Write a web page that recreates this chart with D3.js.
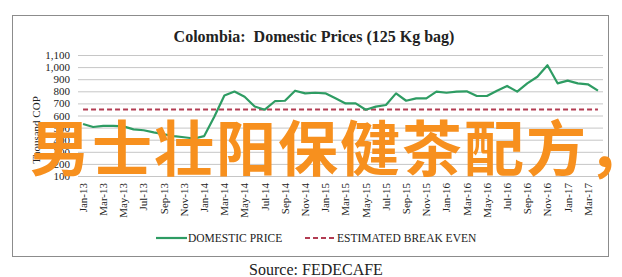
<!DOCTYPE html>
<html>
<head>
<meta charset="utf-8">
<script src="https://cdn.jsdelivr.net/npm/d3@7"></script>
<style>
  body { margin: 0; background: #fff; }
  text { font-family: "Liberation Serif", "Times New Roman", serif; fill: #222; }
</style>
</head>
<body>
<div id="chartArea"></div>
<script>
// categories: one per month, Jan-13 .. Apr-17
var months = [
    "Jan-13","Feb-13","Mar-13","Apr-13","May-13","Jun-13","Jul-13","Aug-13","Sep-13","Oct-13","Nov-13","Dec-13",
    "Jan-14","Feb-14","Mar-14","Apr-14","May-14","Jun-14","Jul-14","Aug-14","Sep-14","Oct-14","Nov-14","Dec-14",
    "Jan-15","Feb-15","Mar-15","Apr-15","May-15","Jun-15","Jul-15","Aug-15","Sep-15","Oct-15","Nov-15","Dec-15",
    "Jan-16","Feb-16","Mar-16","Apr-16","May-16","Jun-16","Jul-16","Aug-16","Sep-16","Oct-16","Nov-16","Dec-16",
    "Jan-17","Feb-17","Mar-17","Apr-17"
];

// domestic price, thousand COP per 125 kg bag
var domesticPrice = [
    530, 505, 515, 515, 510, 485, 478, 460, 445, 430, 420, 410,
    430, 590, 765, 798, 755, 675, 648, 718, 722, 805, 783, 788,
    783, 742, 700, 700, 648, 673, 687, 783, 722, 742, 742, 797,
    788, 797, 800, 761, 761, 805, 844, 797, 866, 920, 1015, 866,
    888, 866, 858, 805
];

var breakEven = 650;

// x tick labels - every second month
var tickLabels = months.filter(function (m, i) { return i % 2 == 0; });
var yTicks = [100, 200, 300, 400, 500, 600, 700, 800, 900, 1000, 1100];

var width = 622, height = 277;

var svg = d3.select("#chartArea")
    .append("svg")
    .attr("width", width)
    .attr("height", height);

// outer frame
svg.append("rect")
    .attr("x", 12.5).attr("y", 15.5)
    .attr("width", 596).attr("height", 241)
    .attr("fill", "#fff")
    .attr("stroke", "#8c8c8c")
    .attr("stroke-width", 1);

svg.append("text")
    .attr("x", 314).attr("y", 42)
    .attr("text-anchor", "middle")
    .style("font-size", "16px")
    .style("font-weight", "bold")
    .style("white-space", "pre")
    .text("Colombia:  Domestic Prices (125 Kg bag)");

var x = d3.scaleBand().domain(months).range([78, 603]);
var y = d3.scaleLinear().domain([100, 1100]).range([176, 55]);
var cx = function (m) { return x(m) + x.bandwidth() / 2; };

// gridlines + y labels
var yAxis = d3.axisLeft(y)
    .tickValues(yTicks)
    .tickSize(-(603 - 78))
    .tickPadding(8)
    .tickFormat(d3.format(","));

var gy = svg.append("g").attr("transform", "translate(78,0)").call(yAxis);
gy.select(".domain").remove();
gy.selectAll(".tick line").attr("stroke", "#c6c6c6");
gy.selectAll(".tick text")
    .style("font-size", "11px")
    .style("font-family", "Liberation Serif, serif")
    .attr("fill", "#222");

svg.append("text")
    .attr("transform", "translate(40,130) rotate(-90)")
    .attr("text-anchor", "middle")
    .style("font-size", "11px")
    .text("Thousand COP");

// x labels, rotated
var xAxis = d3.axisBottom(x)
    .tickValues(tickLabels)
    .tickSize(0)
    .tickPadding(0);

var gx = svg.append("g").attr("transform", "translate(0,176)").call(xAxis);
gx.select(".domain").remove();
gx.selectAll(".tick text")
    .attr("transform", "rotate(-90)")
    .attr("x", -7)
    .attr("y", 0)
    .attr("dy", "0.35em")
    .attr("text-anchor", "end")
    .style("font-size", "11px")
    .style("font-family", "Liberation Serif, serif")
    .attr("fill", "#222");

// estimated break even
var beLine = d3.line()
    .x(function (m) { return cx(m); })
    .y(function () { return y(breakEven); });

svg.append("path")
    .datum(months)
    .attr("d", beLine)
    .attr("fill", "none")
    .attr("stroke", "#b23c52")
    .attr("stroke-width", 2)
    .attr("stroke-dasharray", "5,3");

// domestic price
var priceLine = d3.line()
    .x(function (d, i) { return cx(months[i]); })
    .y(function (d) { return y(d); });

svg.append("path")
    .datum(domesticPrice)
    .attr("d", priceLine)
    .attr("fill", "none")
    .attr("stroke", "#2e9c63")
    .attr("stroke-width", 2.2)
    .attr("stroke-linejoin", "round");

// legend
var legend = svg.append("g").attr("transform", "translate(0,238)");
legend.append("line")
    .attr("x1", 156).attr("x2", 187)
    .attr("stroke", "#2e9c63").attr("stroke-width", 2.2);
legend.append("text")
    .attr("x", 188).attr("dy", "0.35em")
    .style("font-size", "11.5px")
    .text("DOMESTIC PRICE");
legend.append("line")
    .attr("x1", 305).attr("x2", 336)
    .attr("stroke", "#b23c52").attr("stroke-width", 2)
    .attr("stroke-dasharray", "5,3");
legend.append("text")
    .attr("x", 337).attr("dy", "0.35em")
    .style("font-size", "11.5px")
    .text("ESTIMATED BREAK EVEN");

svg.append("text")
    .attr("x", 316).attr("y", 275)
    .attr("text-anchor", "middle")
    .style("font-size", "16px")
    .text("Source: FEDECAFE");

// overlay text that sits across the picture
svg.append("text")
    .attr("x", 30).attr("y", 171)
    .style("font-family", "'Noto Sans CJK SC', sans-serif")
    .style("font-weight", "bold")
    .style("font-size", "60px")
    .style("letter-spacing", "2px")
    .style("fill", "#f7901e")
    .text("男士壮阳保健茶配方，");
</script>
</body>
</html>
